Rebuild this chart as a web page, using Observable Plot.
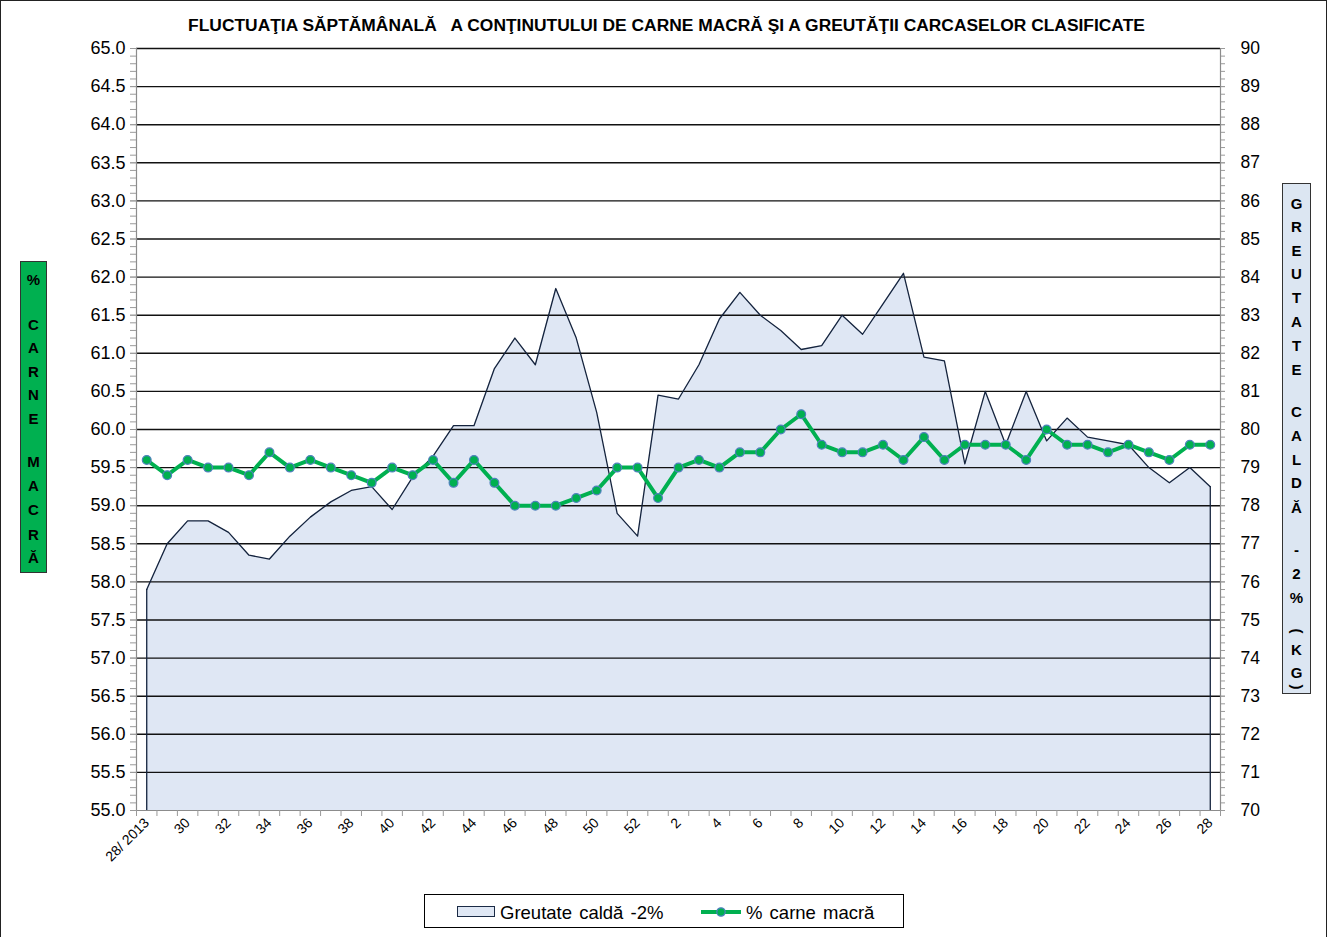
<!DOCTYPE html>
<html>
<head>
<meta charset="utf-8">
<script src="https://cdn.jsdelivr.net/npm/d3@7"></script>
<script src="https://cdn.jsdelivr.net/npm/@observablehq/plot@0.6"></script>
<style>
  html, body { margin: 0; padding: 0; background: #fff; }
  body { font-family: "Liberation Sans", Arial, sans-serif; }
  #wrap { position: relative; width: 1329px; height: 937px; overflow: hidden; }
  #frame { position: absolute; left: 0; top: 0; width: 1325px; height: 945px; border: 1.5px solid #222; box-sizing: content-box; pointer-events: none; }
  #chart { position: absolute; left: 0; top: 0; }
  #title { position: absolute; left: 0; top: 15px; width: 1333px; text-align: center; font-weight: bold; font-size: 17.4px; white-space: pre; color: #000; }
  .vbox { position: absolute; border: 1px solid #333; box-sizing: border-box; }
  .vbox span { position: absolute; left: 0; width: 100%; text-align: center; font-weight: bold; font-size: 15px; line-height: 16px; height: 16px; color: #000; }
  #legend { position: absolute; left: 424px; top: 894px; width: 480px; height: 34px; border: 1px solid #000; box-sizing: border-box; font-size: 18.5px; word-spacing: 2px; color: #000; }
  #legend .sw1 { position: absolute; left: 32px; top: 11px; width: 38px; height: 11px; background: #dfe7f4; border: 1px solid #1a2a45; box-sizing: border-box; }
  #legend .t1 { position: absolute; left: 75px; top: 7px; }
  #legend svg { position: absolute; left: 274px; top: 7px; }
  #legend .t2 { position: absolute; left: 321px; top: 7px; }
</style>
</head>
<body>
<div id="wrap">
  <div id="chart"></div>
  <div id="title">FLUCTUAŢIA SĂPTĂMÂNALĂ   A CONŢINUTULUI DE CARNE MACRĂ ŞI A GREUTĂŢII CARCASELOR CLASIFICATE</div>
  <div id="leftLabel" class="vbox" style="left:20px;top:261px;width:27px;height:312px;background:#00b050;"></div>
  <div id="rightLabel" class="vbox" style="left:1282px;top:183px;width:29px;height:511px;background:#dce6f2;"></div>
  <div id="legend">
    <div class="sw1"></div><div class="t1">Greutate caldă -2%</div>
    <svg width="44" height="20"><line x1="2" y1="10" x2="42" y2="10" stroke="#00b050" stroke-width="4"/><circle cx="22" cy="10" r="4.2" fill="#00b050" stroke="#4f81bd" stroke-width="1.2"/></svg>
    <div class="t2">% carne macră</div>
  </div>
  <div id="frame"></div>
</div>
<script>
// ---- data ----
const weeks = ["28/ 2013","29","30","31","32","33","34","35","36","37","38","39","40","41","42","43","44","45","46","47","48","49","50","51","52",
               "1","2","3","4","5","6","7","8","9","10","11","12","13","14","15","16","17","18","19","20","21","22","23","24","25","26","27","28"];
// % carne macră (left axis)
const lean = [59.6,59.4,59.6,59.5,59.5,59.4,59.7,59.5,59.6,59.5,59.4,59.3,59.5,59.4,59.6,59.3,59.6,59.3,59.0,59.0,59.0,59.1,59.2,59.5,59.5,
              59.1,59.5,59.6,59.5,59.7,59.7,60.0,60.2,59.8,59.7,59.7,59.8,59.6,59.9,59.6,59.8,59.8,59.8,59.6,60.0,59.8,59.8,59.7,59.8,59.7,59.6,59.8,59.8];
// Greutate caldă -2% (kg, right axis)
const weight = [75.8,77.0,77.6,77.6,77.3,76.7,76.6,77.2,77.7,78.1,78.4,78.5,77.9,78.75,79.3,80.1,80.1,81.6,82.4,81.7,83.7,82.4,80.45,77.8,77.2,
                80.9,80.8,81.7,82.9,83.6,83.0,82.6,82.1,82.2,83.0,82.5,83.3,84.1,81.9,81.8,79.1,81.0,79.6,81.0,79.7,80.3,79.8,79.7,79.6,79.0,78.6,79.0,78.5];
const leftTicks = [55.0,55.5,56.0,56.5,57.0,57.5,58.0,58.5,59.0,59.5,60.0,60.5,61.0,61.5,62.0,62.5,63.0,63.5,64.0,64.5,65.0];
const rightTickLabels = [70,71,72,73,74,75,76,77,78,79,80,81,82,83,84,85,86,87,88,89,90];
const leftMin = 55, rightMin = 70, rightPerLeft = 2; // 1 unit left = 2 kg right

const rows = weeks.map((w, i) => ({
  i, week: w, lean: lean[i], weight: weight[i],
  wy: leftMin + (weight[i] - rightMin) / rightPerLeft
}));
const labelIdx = weeks.map((w, i) => i).filter(i => i % 2 === 0);
const boundaries = d3.range(-0.5, weeks.length, 1);
const minorTicks = d3.range(550, 651, 1).map(k => k / 10);
const gridVals = leftTicks.filter(v => v > leftMin);

const chart = Plot.plot({
  width: 1329,
  height: 937,
  marginLeft: 136,
  marginRight: 109,
  marginTop: 48,
  marginBottom: 127,
  style: { fontFamily: "'Liberation Sans', Arial, sans-serif", background: "transparent", color: "#000" },
  x: { type: "linear", domain: [-0.5, weeks.length - 0.5], label: null },
  y: { domain: [55, 65], label: null },
  marks: [
    Plot.areaY(rows, { x: "i", y1: leftMin, y2: "wy", fill: "#dfe7f4" }),
    Plot.ruleY(gridVals, { stroke: "#111", strokeWidth: 1.4 }),
    Plot.lineY(rows, { x: "i", y: "wy", stroke: "#14233d", strokeWidth: 1.3 }),
    Plot.ruleX([rows[0]], { x: "i", y1: leftMin, y2: "wy", stroke: "#14233d", strokeWidth: 1.3 }),
    Plot.ruleX([rows[rows.length - 1]], { x: "i", y1: leftMin, y2: "wy", stroke: "#14233d", strokeWidth: 1.3 }),
    // axis lines
    Plot.ruleX([-0.5, weeks.length - 0.5], { stroke: "#8c8c8c", strokeWidth: 1.2 }),
    Plot.ruleY([55], { stroke: "#8c8c8c", strokeWidth: 1.2 }),
    // left axis
    Plot.axisY(minorTicks, { anchor: "left", label: null, tickSize: 6, stroke: "#9a9a9a", tickFormat: () => "" }),
    Plot.axisY(leftTicks, { anchor: "left", label: null, tickSize: 6, tickPadding: 5, stroke: "#9a9a9a", color: "#000", fill: "#000", fontSize: 18, tickFormat: d => d.toFixed(1) }),
    // right axis
    Plot.axisY(minorTicks, { anchor: "right", label: null, tickSize: 4, stroke: "#9a9a9a", tickFormat: () => "" }),
    Plot.axisY(leftTicks, { anchor: "right", label: null, tickSize: 4, tickPadding: 16, stroke: "#9a9a9a", color: "#000", fill: "#000", fontSize: 17.5,
      tickFormat: d => String(rightTickLabels[leftTicks.indexOf(d)]) }),
    // x axis
    Plot.axisX(boundaries, { anchor: "bottom", label: null, tickSize: 6, stroke: "#9a9a9a", tickFormat: () => "" }),
    Plot.axisX(labelIdx, { anchor: "bottom", label: null, tickSize: 0, tickPadding: 10, tickRotate: -45, fontSize: 14, color: "#000", fill: "#000",
      tickFormat: i => weeks[i] }),
    // lean meat line
    Plot.lineY(rows, { x: "i", y: "lean", stroke: "#00b050", strokeWidth: 4 }),
    Plot.dot(rows, { x: "i", y: "lean", r: 4.4, fill: "#00b050", stroke: "#4f81bd", strokeWidth: 1.2 })
  ]
});
document.getElementById("chart").appendChild(chart);

// vertical axis titles (stacked letters)
function stack(id, items, top) {
  const el = document.getElementById(id);
  for (const [ch, cy, rot] of items) {
    const s = document.createElement("span");
    s.textContent = ch;
    s.style.top = (cy - top - 8) + "px";
    if (rot) s.style.transform = "rotate(90deg)";
    el.appendChild(s);
  }
}
stack("leftLabel", [["%",280],["C",325],["A",348],["R",372],["N",395],["E",419],["M",462],["A",486],["C",510],["R",535],["Ă",558]], 262);
stack("rightLabel", [["G",204],["R",227],["E",251],["U",274],["T",298],["A",322],["T",346],["E",370],
  ["C",412],["A",436],["L",460],["D",483],["Ă",508],["-",550],["2",574],["%",598],["(",631,true],["K",650],["G",673],[")",687,true]], 184);
</script>
</body>
</html>
